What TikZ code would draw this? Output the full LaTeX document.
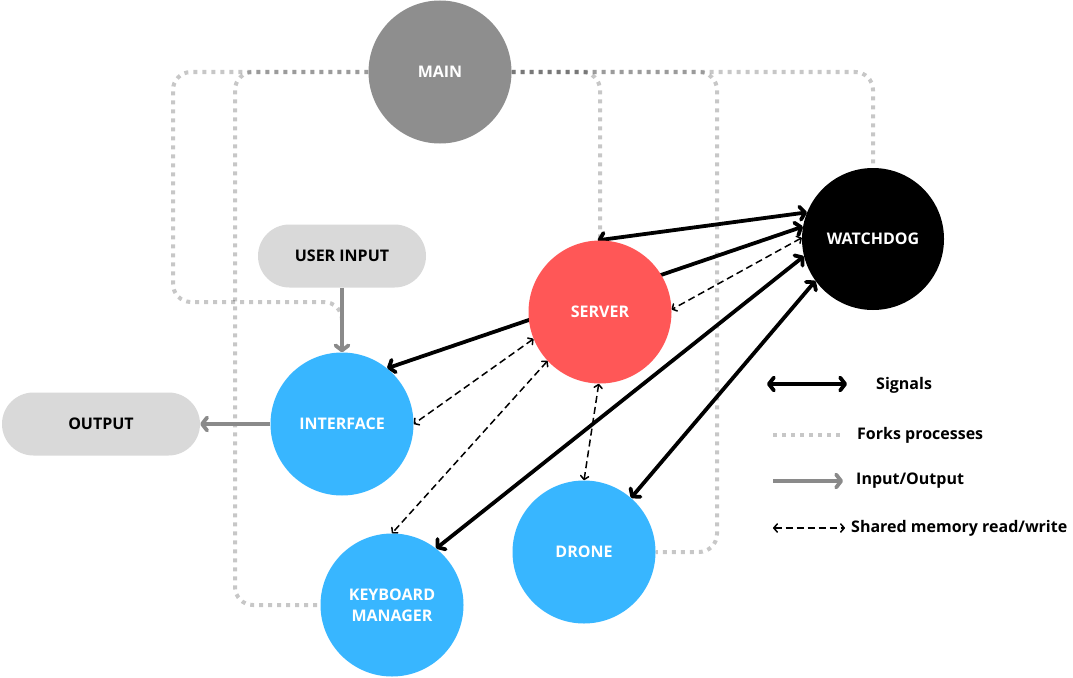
\documentclass[tikz,border=0pt]{standalone}
\usepackage{fontspec}
\setmainfont{Open Sans}
\usetikzlibrary{arrows.meta}
\definecolor{maingray}{HTML}{8E8E8E}
\definecolor{srvred}{HTML}{FF5757}
\definecolor{procblue}{HTML}{38B6FF}
\definecolor{pillgray}{HTML}{D9D9D9}
\definecolor{iogray}{HTML}{8A8A8A}
\pgfdeclarelayer{back}
\pgfdeclarelayer{edges}
\pgfsetlayers{back,edges,main}
\tikzset{
  lbl/.style={font=\bfseries\fontsize{16}{22}\selectfont},
  proc/.style={lbl, circle, minimum size=143pt, inner sep=0pt, text=white, align=center},
  pill/.style={lbl, rectangle, rounded corners=31.5pt, fill=pillgray, minimum height=63pt, inner sep=0pt, text=black},
  legtext/.style={lbl, anchor=west, inner sep=0pt, text=black},
  fork/.style={line width=4pt, draw=black, draw opacity=0.22, dash pattern=on 4pt off 5pt, rounded corners=18pt},
  sig/.style={line width=3.8pt, {Straight Barb[round,length=5pt,width=13pt]}-{Straight Barb[round,length=5pt,width=13pt]}},
  mem/.style={line width=1.5pt, dash pattern=on 7pt off 4pt, {Straight Barb[round,length=3.5pt,width=8pt]}-{Straight Barb[round,length=3.5pt,width=8pt]}},
  io/.style={line width=3.8pt, draw=iogray, -{Straight Barb[round,length=5pt,width=13pt]}}
}
\begin{document}
\begin{tikzpicture}[x=1pt,y=-1pt]
\begin{pgfonlayer}{back}
  \fill[white] (0,0) rectangle (1073,677);
\end{pgfonlayer}
\useasboundingbox (0,0) rectangle (1073,677);

% process nodes
\node[proc, fill=maingray] (main) at (440,72) {MAIN};
\node[proc, fill=black, minimum size=142pt] (wd) at (873,239) {WATCHDOG};
\node[proc, fill=srvred] (srv) at (600,312) {SERVER};
\node[proc, fill=procblue] (ifc) at (342,424) {INTERFACE};
\node[proc, fill=procblue] (kbd) at (392,605) {KEYBOARD\\[-1pt]MANAGER};
\node[proc, fill=procblue] (drn) at (584,552) {DRONE};
\node[pill, minimum width=168pt] (uin) at (342,256) {USER INPUT};
\node[pill, minimum width=198pt] (out) at (101,424) {OUTPUT};

% free ends
\coordinate (forkend) at (342,322);

\begin{pgfonlayer}{edges}
  % fork processes
  \draw[fork] (main.west) -- (173,72) -- (173,302) -- (342,302) -- (forkend);
  \draw[fork] (main.west) -- (235,72) -- (235,605) -- (kbd.west);
  \draw[fork] (main.east) -- (600,72) -- (srv.north);
  \draw[fork] (main.east) -- (717,72) -- (717,552) -- (drn.east);
  \draw[fork] (main.east) -- (873,72) -- (wd.north);
  % input / output
  \draw[io] (uin.south) -- (ifc.north);
  \draw[io] (ifc.west) -- (out.east);
  % signals
  \draw[sig] (wd.158) -- (srv.92);
  \draw[sig] (wd.170) -- (ifc.51);
  \draw[sig] (wd.194) -- (kbd.52);
  \draw[sig] (wd.216) -- (drn.49);
  % shared memory
  \draw[mem] (wd.179) -- (srv.2);
  \draw[mem] (srv.202) -- (ifc.east);
  \draw[mem] (srv.223) -- (kbd.north);
  \draw[mem] (srv.269) -- (drn.north);
\end{pgfonlayer}

% legend
\coordinate (l1a) at (767,384); \coordinate (l1b) at (847,384);
\coordinate (l2a) at (773,435); \coordinate (l2b) at (841,435);
\coordinate (l3a) at (773,481); \coordinate (l3b) at (843,481);
\coordinate (l4a) at (773,528); \coordinate (l4b) at (845,528);
\draw[sig] (l1a) -- (l1b);
\draw[fork] (l2a) -- (l2b);
\draw[io] (l3a) -- (l3b);
\draw[mem] (l4a) -- (l4b);
\node[legtext] (t1) at (876,385) {Signals};
\node[legtext] (t2) at (857,435) {Forks processes};
\node[legtext] (t3) at (856,481) {Input/Output};
\node[legtext] (t4) at (851,528) {Shared memory read/write};
\end{tikzpicture}
\end{document}
